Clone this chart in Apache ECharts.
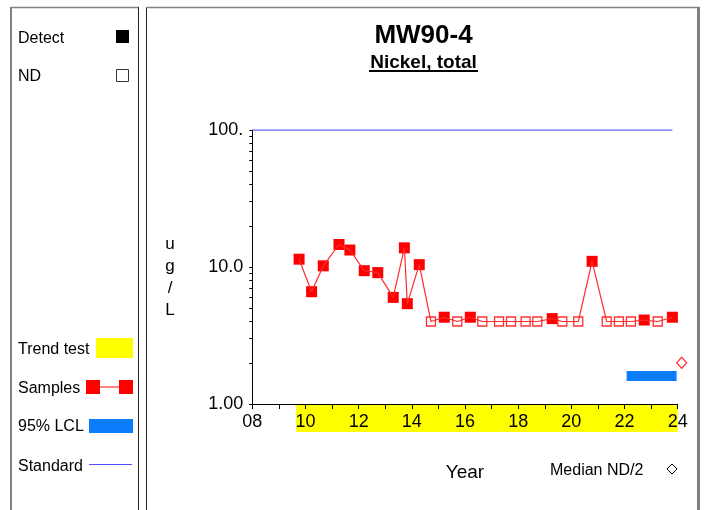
<!DOCTYPE html>
<html>
<head>
<meta charset="utf-8">
<script src="https://cdn.jsdelivr.net/npm/echarts@6/dist/echarts.min.js"></script>
<style>
  html, body { margin: 0; padding: 0; background: #fff; }
  #chart { width: 705px; height: 510px; }
</style>
</head>
<body>
<div id="chart"></div>
<script>
// Sampling dates (decimal year, 2-digit) and nickel results, ug/L
const sampleYears = [9.76, 10.23, 10.67, 11.26, 11.67, 12.21, 12.72, 13.30, 13.72, 13.83,
  14.28, 14.72, 15.22, 15.71, 16.20, 16.65, 17.28, 17.73, 18.28, 18.72,
  19.28, 19.66, 20.26, 20.78, 21.33, 21.79, 22.24, 22.74, 23.25, 23.80];
const sampleValues = [11.4, 6.6, 10.2, 14.6, 13.3, 9.4, 9.1, 6.0, 13.8, 5.4,
  10.4, 4.0, 4.3, 4.0, 4.3, 4.0, 4.0, 4.0, 4.0, 4.0,
  4.2, 4.0, 4.0, 11.0, 4.0, 4.0, 4.0, 4.1, 4.0, 4.3];
// 1 = detected, 0 = non-detect (reporting limit shown)
const sampleDetected = [1, 1, 1, 1, 1, 1, 1, 1, 1, 1,
  1, 0, 1, 0, 1, 0, 0, 0, 0, 0,
  1, 0, 0, 1, 0, 0, 0, 1, 0, 1];

const standardValue = 100;
const standardRange = [8, 23.8];
const lclValue = 1.6;
const lclRange = [22.08, 23.96];
const medianNdHalf = [24.15, 2.0];
const trendRange = [9.65, 24];

const xTickLabels = ['08', '10', '12', '14', '16', '18', '20', '22', '24'];
const yTickLabels = ['1.00', '10.0', '100.'];

const FONT = '"Liberation Sans", Arial, sans-serif';
const RED = '#ff0000';

const detectPts = [], ndPts = [], linePts = [];
sampleYears.forEach((yr, i) => {
  const p = [yr, sampleValues[i]];
  linePts.push(p);
  (sampleDetected[i] ? detectPts : ndPts).push(p);
});

const chart = echarts.init(document.getElementById('chart'), null, { renderer: 'canvas' });

function legendText(text, y) {
  return { type: 'text', x: 18, y: y,
    style: { text: text, fontSize: 16, fontFamily: FONT, fill: '#000', verticalAlign: 'middle', align: 'left' } };
}

const graphics = [
  // panel frames
  { type: 'line', shape: { x1: 11, y1: 7.5, x2: 11, y2: 512 }, style: { stroke: '#808080', lineWidth: 2 } },
  { type: 'line', shape: { x1: 10, y1: 7.5, x2: 139, y2: 7.5 }, style: { stroke: '#808080', lineWidth: 1.5 } },
  { type: 'line', shape: { x1: 138.5, y1: 7, x2: 138.5, y2: 512 }, style: { stroke: '#222', lineWidth: 1 } },
  { type: 'line', shape: { x1: 146.5, y1: 7, x2: 146.5, y2: 512 }, style: { stroke: '#222', lineWidth: 1 } },
  { type: 'line', shape: { x1: 146, y1: 7.5, x2: 699, y2: 7.5 }, style: { stroke: '#808080', lineWidth: 1.5 } },
  { type: 'line', shape: { x1: 698.5, y1: 7, x2: 698.5, y2: 512 }, style: { stroke: '#808080', lineWidth: 3 } },

  // titles
  { type: 'text', x: 423.5, y: 35.5, style: { text: 'MW90-4', fontSize: 26, fontWeight: 'bold', fontFamily: FONT, fill: '#000', align: 'center', verticalAlign: 'middle' } },
  { type: 'text', x: 423.5, y: 63, style: { text: 'Nickel, total', fontSize: 19, fontWeight: 'bold', fontFamily: FONT, fill: '#000', align: 'center', verticalAlign: 'middle' } },
  { type: 'line', shape: { x1: 369, y1: 71, x2: 478, y2: 71 }, style: { stroke: '#000', lineWidth: 2 } },

  // vertical unit label
  { type: 'text', x: 170, y: 277, style: { text: 'u\ng\n/\nL', fontSize: 17, lineHeight: 22, fontFamily: FONT, fill: '#000', align: 'center', verticalAlign: 'middle' } },

  // left legend
  legendText('Detect', 39),
  { type: 'rect', shape: { x: 116, y: 30, width: 13, height: 13 }, style: { fill: '#000' } },
  legendText('ND', 77),
  { type: 'rect', shape: { x: 116.5, y: 69.5, width: 12, height: 12 }, style: { fill: 'none', stroke: '#333', lineWidth: 1 } },
  legendText('Trend test', 350),
  { type: 'rect', shape: { x: 96, y: 338, width: 37, height: 20 }, style: { fill: '#ffff00' } },
  legendText('Samples', 389),
  { type: 'line', shape: { x1: 100, y1: 387, x2: 119, y2: 387 }, style: { stroke: '#ff5a5a', lineWidth: 1.5 } },
  { type: 'rect', shape: { x: 86, y: 380, width: 14, height: 14 }, style: { fill: RED } },
  { type: 'rect', shape: { x: 119, y: 380, width: 14, height: 14 }, style: { fill: RED } },
  legendText('95% LCL', 427),
  { type: 'rect', shape: { x: 89, y: 419, width: 44, height: 14 }, style: { fill: '#0a7dff' } },
  legendText('Standard', 467),
  { type: 'line', shape: { x1: 89, y1: 464.5, x2: 132, y2: 464.5 }, style: { stroke: '#5050ff', lineWidth: 1.2 } },

  // median ND/2 key
  { type: 'text', x: 550, y: 471, style: { text: 'Median ND/2', fontSize: 16, fontFamily: FONT, fill: '#000', align: 'left', verticalAlign: 'middle' } },
  { type: 'polygon', shape: { points: [[672, 464], [677, 469], [672, 474], [667, 469]] }, style: { fill: 'none', stroke: '#000', lineWidth: 1 } }
];

const option = {
  animation: false,
  backgroundColor: '#fff',
  textStyle: { fontFamily: FONT },
  grid: { left: 252.3, top: 130, width: 425.4, height: 274, containLabel: false },
  xAxis: {
    type: 'value', min: 8, max: 24, interval: 1,
    axisLine: { show: true, onZero: false, lineStyle: { color: '#000', width: 1 } },
    axisTick: { show: true, length: 5, lineStyle: { color: '#000' } },
    axisLabel: {
      fontSize: 18, color: '#000', margin: 9, fontFamily: FONT,
      showMinLabel: true, showMaxLabel: true,
      formatter: v => {
        const idx = xTickLabels.indexOf(String(Math.round(v)).padStart(2, '0'));
        return idx >= 0 ? xTickLabels[idx] : '';
      }
    },
    splitLine: { show: false },
    name: 'Year', nameLocation: 'middle', nameGap: 59,
    nameTextStyle: { fontSize: 19, color: '#000', fontFamily: FONT }
  },
  yAxis: {
    type: 'log', logBase: 10, min: 1, max: 100,
    axisLine: { show: true, lineStyle: { color: '#000', width: 1 } },
    axisTick: { show: true, length: 3, lineStyle: { color: '#000' } },
    minorTick: { show: true, splitNumber: 9, length: 3, lineStyle: { color: '#000' } },
    axisLabel: {
      fontSize: 18, color: '#000', margin: 9, fontFamily: FONT,
      formatter: v => yTickLabels[Math.round(Math.log10(v))] || ''
    },
    splitLine: { show: false },
    minorSplitLine: { show: false }
  },
  graphic: graphics,
  series: [
    {
      // trend test window, drawn as a band beneath the time axis
      type: 'custom', z: -1,
      encode: { x: [0, 1], y: 2 },
      data: [[trendRange[0], trendRange[1], 1]],
      renderItem: (params, api) => {
        const p0 = api.coord([api.value(0), api.value(2)]);
        const p1 = api.coord([api.value(1), api.value(2)]);
        return { type: 'rect', shape: { x: p0[0], y: p0[1], width: p1[0] - p0[0], height: 28 }, style: { fill: '#ffff00' } };
      }
    },
    {
      type: 'line', name: 'Standard', symbol: 'none',
      data: [[standardRange[0], standardValue], [standardRange[1], standardValue]],
      lineStyle: { color: '#6b6bff', width: 1.5 }
    },
    {
      type: 'line', name: '95% LCL', symbol: 'none',
      data: [[lclRange[0], lclValue], [lclRange[1], lclValue]],
      lineStyle: { color: '#0a7dff', width: 10, cap: 'butt' }
    },
    {
      type: 'line', name: 'Samples', symbol: 'none',
      data: linePts,
      lineStyle: { color: '#ff2a2a', width: 1.2 }
    },
    {
      type: 'scatter', name: 'Detect', symbol: 'rect', symbolSize: 11,
      data: detectPts,
      itemStyle: { color: RED, opacity: 1 }
    },
    {
      type: 'scatter', name: 'ND', symbol: 'rect', symbolSize: 9,
      data: ndPts,
      itemStyle: { color: 'rgba(0,0,0,0)', borderColor: '#ff3030', borderWidth: 1.3, opacity: 1 }
    },
    {
      type: 'scatter', name: 'Median ND/2', symbol: 'diamond', symbolSize: [10, 11],
      clip: false,
      data: [medianNdHalf],
      itemStyle: { color: 'rgba(0,0,0,0)', borderColor: '#ff3030', borderWidth: 1.2, opacity: 1 }
    }
  ]
};

chart.setOption(option);
</script>
</body>
</html>
